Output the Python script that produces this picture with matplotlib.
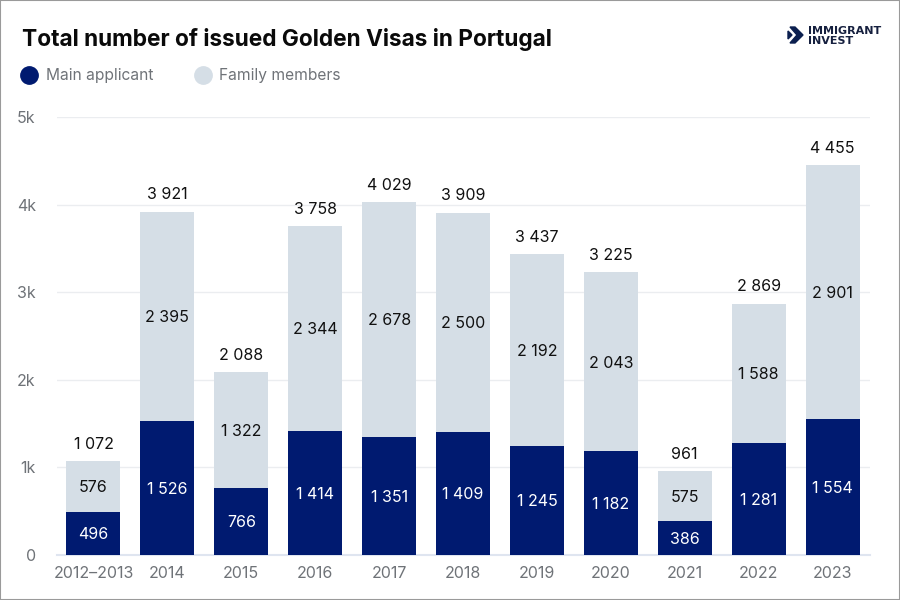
import matplotlib

matplotlib.use("Agg")
from matplotlib import pyplot as plt
from matplotlib.patches import Polygon, Rectangle

plt.rcParams["font.family"] = ["Inter", "DejaVu Sans"]

years = ["2012–2013", "2014", "2015", "2016", "2017", "2018", "2019", "2020", "2021", "2022", "2023"]
main_applicant = [496, 1526, 766, 1414, 1351, 1409, 1245, 1182, 386, 1281, 1554]
family_members = [576, 2395, 1322, 2344, 2678, 2500, 2192, 2043, 575, 1588, 2901]
totals = [1072, 3921, 2088, 3758, 4029, 3909, 3437, 3225, 961, 2869, 4455]
y_ticks = [0, 1000, 2000, 3000, 4000, 5000]
y_tick_labels = ["0", "1k", "2k", "3k", "4k", "5k"]

NAVY = "#001a70"
LIGHT = "#d5dee6"
GRAY = "#6f7378"
W, H = 900, 600


def fmt(value: int) -> str:
    return f"{value:,}".replace(",", " ")


fig = plt.figure(figsize=(9, 6), dpi=100, facecolor="white")
# plot area in pixels: x 56.5-869.5, y 117-555
ax = fig.add_axes([56.5 / W, 1 - 555 / H, 813 / W, (555 - 117) / H])

positions = list(range(len(years)))
ax.bar(positions, main_applicant, width=0.73, color=NAVY, zorder=3)
ax.bar(positions, family_members, width=0.73, bottom=main_applicant, color=LIGHT, zorder=3)

for x, low, high, total in zip(positions, main_applicant, family_members, totals):
    ax.text(x, low / 2, fmt(low), ha="center", va="center_baseline", color="white", fontsize=11.5, zorder=4)
    ax.text(x, low + high / 2, fmt(high), ha="center", va="center_baseline", color="#111111", fontsize=11.5, zorder=4)
    ax.text(x, total + 105, fmt(total), ha="center", va="bottom", color="#111111", fontsize=11.5, zorder=4)

ax.set_xlim(-0.5, len(years) - 0.5)
ax.set_ylim(0, 5000)
ax.set_yticks(y_ticks, y_tick_labels)
ax.set_xticks(positions, years)
ax.tick_params(axis="both", length=0, labelsize=11.5, labelcolor=GRAY)
ax.tick_params(axis="x", pad=8)
ax.tick_params(axis="y", pad=15)
ax.grid(axis="y", color="#ebedf0", linewidth=1, zorder=0)
ax.set_axisbelow(True)
for side in ["top", "right", "left"]:
    ax.spines[side].set_visible(False)
ax.spines["bottom"].set_color("#dfe5f0")
ax.spines["bottom"].set_linewidth(1.5)

fig.text(22 / W, 1 - 37 / H, "Total number of issued Golden Visas in Portugal",
         fontsize=16.3, fontweight="bold", color="#0a0a0a", va="center_baseline")

# legend
for cx, color, label, label_x in [(29, NAVY, "Main applicant", 46), (203, LIGHT, "Family members", 219)]:
    fig.add_artist(plt.Line2D([cx / W], [1 - 74.5 / H], marker="o", markersize=12.5,
                              color=color, linestyle="none", transform=fig.transFigure))
    fig.text(label_x / W, 1 - 74 / H, label, fontsize=11.2, color=GRAY, va="center_baseline")

# logo
for pts in [
    [(795, 27), (803, 35), (795, 43), (790, 43), (797, 35), (790, 27)],
    [(788, 31), (792, 35), (788, 39)],
]:
    fig.add_artist(Polygon([(px / W, 1 - py / H) for px, py in pts], closed=True,
                           color="#0b1f4f", transform=fig.transFigure))
fig.text(808 / W, 1 - 26 / H, "IMMIGRANT", fontsize=8, fontweight="bold", family="DejaVu Sans",
         color="#16203f", va="top")
fig.text(808 / W, 1 - 36.5 / H, "INVEST", fontsize=8, fontweight="bold", family="DejaVu Sans",
         color="#16203f", va="top")

# border around the picture
fig.add_artist(Rectangle((0, 0), 1, 1, fill=False, edgecolor="#9a9a9a", linewidth=1.5,
                         transform=fig.transFigure))

fig.savefig("out.png", dpi=100)
